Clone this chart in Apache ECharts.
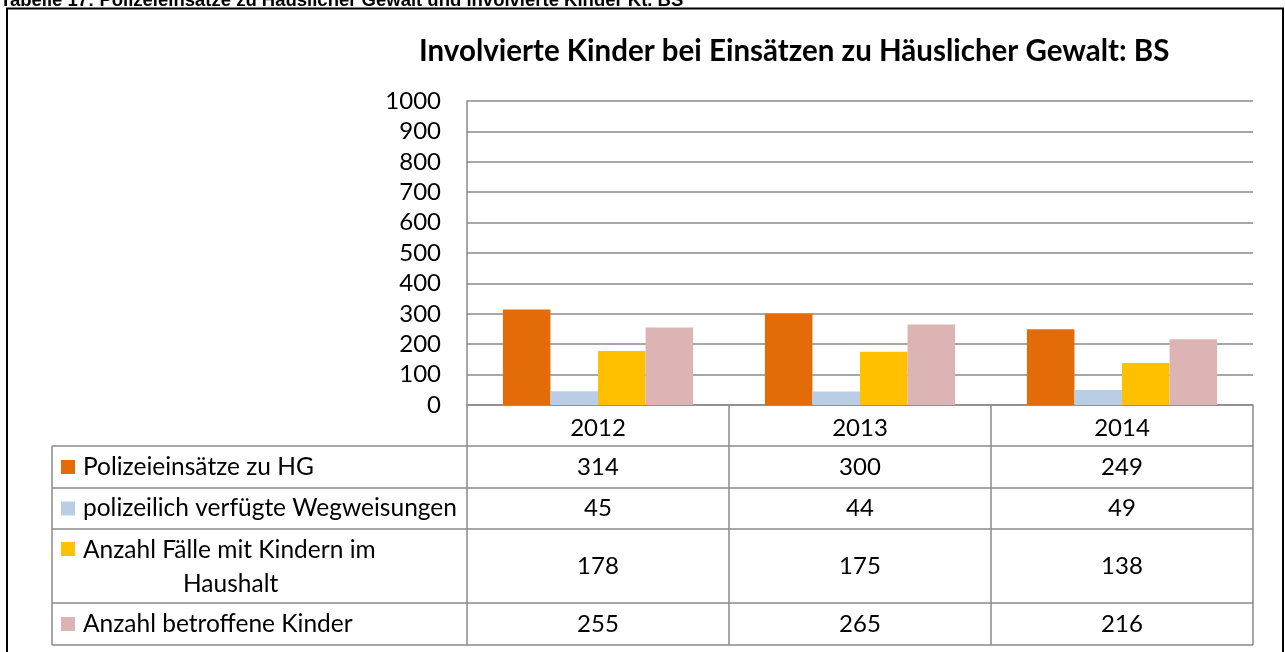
<!DOCTYPE html>
<html>
<head>
<meta charset="utf-8">
<title>Involvierte Kinder</title>
<script src="https://cdn.jsdelivr.net/npm/echarts@6/dist/echarts.min.js"></script>
<style>
  html, body { margin: 0; padding: 0; background: #fff; }
  #chart { width: 1285px; height: 652px; }
</style>
</head>
<body>
<div id="chart"></div>
<script>
var years = ['2012', '2013', '2014'];
var seriesNames = [
    'Polizeieinsätze zu HG',
    'polizeilich verfügte Wegweisungen',
    'Anzahl Fälle mit Kindern im Haushalt',
    'Anzahl betroffene Kinder'
];
var einsaetze = [314, 300, 249];
var wegweisungen = [45, 44, 49];
var faelleKinder = [178, 175, 138];
var betroffeneKinder = [255, 265, 216];
var yTicks = [0, 1000, 100]; // min, max, interval

var colors = ['#E36C09', '#B9CDE5', '#FFC000', '#DDB4B4'];
var allValues = [einsaetze, wegweisungen, faelleKinder, betroffeneKinder];

var chartDom = document.getElementById('chart');
var myChart = echarts.init(chartDom, null, { renderer: 'canvas' });

var gridLeft = 467, gridRight = 1253, gridTop = 101, gridBottom = 405;
var tableLeft = 52;
var rowLines = [446, 488, 529, 603, 645];
var lineColor = '#8a8a8a';
var font = 'Lato';
var fs = 24;
var tableFs = 24.5;

function buildTable() {
    var g = [];
    var colW = (gridRight - gridLeft) / years.length;
    // horizontal lines
    rowLines.forEach(function (y) {
        g.push({ type: 'line', shape: { x1: tableLeft, y1: y, x2: gridRight, y2: y },
            style: { stroke: lineColor, lineWidth: 1.5 }, silent: true });
    });
    // vertical lines
    g.push({ type: 'line', shape: { x1: tableLeft, y1: rowLines[0], x2: tableLeft, y2: rowLines[4] },
        style: { stroke: lineColor, lineWidth: 1.5 } });
    for (var c = 0; c <= years.length; c++) {
        var x = gridLeft + c * colW;
        g.push({ type: 'line', shape: { x1: x, y1: rowLines[0], x2: x, y2: rowLines[4] },
            style: { stroke: lineColor, lineWidth: 1.5 } });
    }
    // row labels + values
    for (var r = 0; r < seriesNames.length; r++) {
        var yMid = (rowLines[r] + rowLines[r + 1]) / 2;
        g.push({ type: 'rect', shape: { x: 61, y: yMid - 7 - (r === 2 ? 17 : 0), width: 14, height: 14 },
            style: { fill: colors[r] } });
        if (r === 2) {
            g.push({ type: 'text', x: 83, y: yMid - 16, style: { text: 'Anzahl Fälle mit Kindern im',
                font: tableFs + 'px ' + font, fill: '#000', verticalAlign: 'middle' } });
            g.push({ type: 'text', x: 183, y: yMid + 18, style: { text: 'Haushalt',
                font: tableFs + 'px ' + font, fill: '#000', verticalAlign: 'middle' } });
        } else {
            g.push({ type: 'text', x: 83, y: yMid, style: { text: seriesNames[r],
                font: tableFs + 'px ' + font, fill: '#000', verticalAlign: 'middle' } });
        }
        for (var c2 = 0; c2 < years.length; c2++) {
            g.push({ type: 'text', x: gridLeft + (c2 + 0.5) * colW, y: yMid,
                style: { text: String(allValues[r][c2]), font: fs + 'px ' + font, fill: '#000',
                    align: 'center', verticalAlign: 'middle' } });
        }
    }
    // outer frame and caption
    g.push({ type: 'rect', shape: { x: 7, y: 8.5, width: 1276, height: 700 },
        style: { fill: 'none', stroke: '#000', lineWidth: 2 } });
    g.push({ type: 'text', x: 0, y: 10, style: {
        text: 'Tabelle 17: Polizeieinsätze zu Häuslicher Gewalt und involvierte Kinder Kt. BS',
        font: 'bold 18.5px "Liberation Sans"', fill: '#000', verticalAlign: 'bottom' } });
    return g;
}

var option = {
    backgroundColor: '#fff',
    animation: false,
    title: {
        text: 'Involvierte Kinder bei Einsätzen zu Häuslicher Gewalt: BS',
        left: 414,
        top: 31,
        textStyle: { fontFamily: font, fontWeight: 'bold', fontSize: 29.5, color: '#000' }
    },
    grid: {
        left: gridLeft,
        right: 1285 - gridRight,
        top: gridTop,
        bottom: 652 - gridBottom,
        containLabel: false
    },
    xAxis: {
        type: 'category',
        data: years,
        axisLine: { lineStyle: { color: lineColor, width: 1.5 } },
        axisTick: { show: true, interval: 0, length: 41, lineStyle: { color: lineColor, width: 1.5 } },
        axisLabel: { margin: 11, fontSize: fs, fontFamily: font, color: '#000' }
    },
    yAxis: {
        type: 'value',
        min: yTicks[0],
        max: yTicks[1],
        interval: yTicks[2],
        axisLine: { show: true, lineStyle: { color: lineColor, width: 1.5 } },
        axisTick: { show: false },
        axisLabel: { margin: 26, fontSize: fs, fontFamily: font, color: '#000',
            formatter: function (value) { return String(value); } },
        splitLine: { lineStyle: { color: lineColor, width: 1.5 } }
    },
    series: seriesNames.map(function (name, i) {
        return {
            name: name,
            type: 'bar',
            data: allValues[i],
            barGap: '0%',
            barCategoryGap: '27.4%',
            itemStyle: { color: colors[i] }
        };
    }),
    graphic: buildTable()
};

option && myChart.setOption(option);
window.addEventListener('resize', function () {
    myChart.resize();
});
</script>
</body>
</html>
